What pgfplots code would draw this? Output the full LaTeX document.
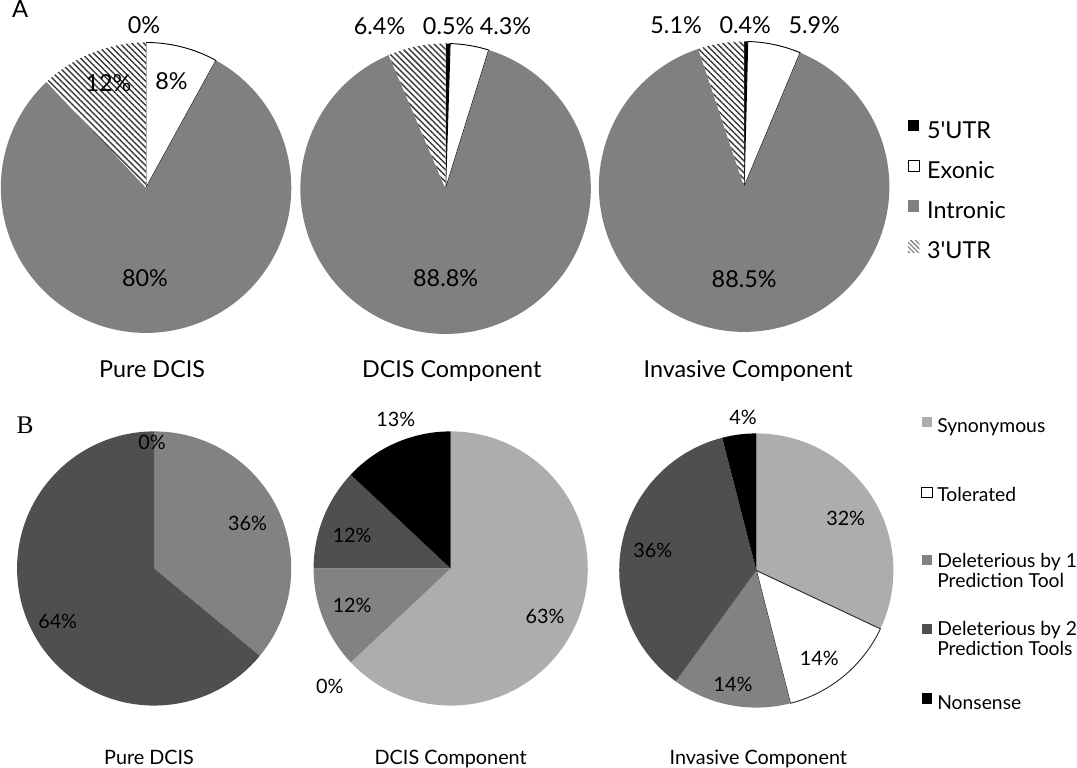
\documentclass[border=0pt]{standalone}
\usepackage{fontspec}
\setmainfont{Lato}
\newfontfamily\panelserif{Liberation Serif}
\usepackage{pgfplots}
\usepackage{pgfplotstable}
\pgfplotsset{compat=1.18}
\usetikzlibrary{patterns.meta}

\definecolor{intronicgray}{HTML}{808080}
\definecolor{delonegray}{HTML}{828282}
\definecolor{deltwogray}{HTML}{4F4F4F}
\definecolor{synongray}{HTML}{ADADAD}
\definecolor{hatchgray}{HTML}{3A3A3A}

\tikzset{
  pie utr5/.style={fill=black},
  pie exonic/.style={fill=white, draw=black, line width=0.9bp, line join=round},
  pie intronic/.style={fill=intronicgray},
  pie utr3/.style={fill=white, postaction={pattern={Lines[angle=-45,distance=4.2bp,line width=1.4bp]}, pattern color=hatchgray}},
  pie syn/.style={fill=synongray},
  pie tol/.style={fill=white, draw=black!85, line width=0.9bp, line join=round},
  pie del1/.style={fill=delonegray},
  pie del2/.style={fill=deltwogray},
  pie non/.style={fill=black},
}

% Panel A: location of the variants (percent of variants)
\pgfplotstableread{
kind share
utr5 0
exonic 8
intronic 80
utr3 12
}\locPure
\pgfplotstableread{
kind share
utr5 0.5
exonic 4.3
intronic 88.8
utr3 6.4
}\locDcis
\pgfplotstableread{
kind share
utr5 0.4
exonic 5.9
intronic 88.5
utr3 5.1
}\locInv

% Panel B: predicted effect of the coding variants (percent)
\pgfplotstableread{
kind share
syn 0
tol 0
del1 36
del2 64
non 0
}\effPure
\pgfplotstableread{
kind share
syn 63
tol 0
del1 12
del2 12
non 13
}\effDcis
\pgfplotstableread{
kind share
syn 32
tol 14
del1 14
del2 36
non 4
}\effInv

% Wedges clockwise from twelve o'clock; #1 table, #2/#3 centre, #4 radius
\newcommand\drawpie[4]{%
  \pgfkeys{/pgf/fpu=false}%
  \pgfplotstablegetrowsof{#1}%
  \pgfmathtruncatemacro\pielast{\pgfplotsretval-1}%
  \gdef\pietotal{0}%
  \foreach \k in {0,...,\pielast}{%
    \pgfplotstablegetelem{\k}{share}\of#1%
    \pgfmathsetmacro\pietmp{\pietotal+\pgfplotsretval}%
    \xdef\pietotal{\pietmp}%
  }%
  \gdef\pieang{90}%
  \foreach \k in {0,...,\pielast}{%
    \pgfplotstablegetelem{\k}{share}\of#1\let\pieval\pgfplotsretval
    \pgfplotstablegetelem{\k}{kind}\of#1\let\piekind\pgfplotsretval
    \pgfmathsetmacro\pieend{\pieang-\pieval/\pietotal*360}%
    \pgfmathtruncatemacro\pieshow{\pieval>0 ? 1 : 0}%
    \ifnum\pieshow>0
      \edef\piestyle{pie \piekind}%
      \expandafter\path\expandafter[\piestyle] (axis cs:#2,#3) -- ++(\pieang:#4bp)
        arc[start angle=\pieang, end angle=\pieend, radius=#4bp] -- cycle;%
    \fi
    \xdef\pieang{\pieend}%
  }%
}

\newcommand\fA{\fontsize{23bp}{27bp}\selectfont}
\newcommand\fB{\fontsize{19.5bp}{23bp}\selectfont}
\newcommand\fL{\fontsize{19bp}{23bp}\selectfont}
% text placed by baseline, page coordinates measured downwards
\newcommand\labA[3]{\node[anchor=base, inner sep=0pt, font=\fA] at (axis cs:#1,-#2) {#3};}
\newcommand\labB[3]{\node[anchor=base, inner sep=0pt, font=\fB] at (axis cs:#1,-#2) {#3};}
\newcommand\legA[2]{\node[anchor=base west, inner sep=0pt, font=\fA] at (axis cs:918,-#1) {#2};}
\newcommand\legB[2]{\node[anchor=base west, inner sep=0pt, font=\fL] at (axis cs:928,-#1) {#2};}

\begin{document}
\begin{tikzpicture}
\begin{axis}[
  x=1bp, y=1bp, xmin=0, xmax=1077, ymin=-772, ymax=0,
  scale only axis, hide axis, clip=false,
]
% ---------- Panel A ----------
\pgfplotsextra{\drawpie{\locPure}{149}{-195}{143}}
\pgfplotsextra{\drawpie{\locDcis}{444}{-196}{143}}
\pgfplotsextra{\drawpie{\locInv}{738}{-194}{143}}

\node[anchor=base, inner sep=0pt, font=\fontsize{23.5bp}{28bp}\selectfont] at (axis cs:25,-27) {A};

\labA{147}{43}{0\%}
\labA{174}{98}{8\%}
\labA{112}{100}{12\%}
\labA{148}{292}{80\%}

\labA{379}{44}{6.4\%}
\labA{447}{44}{0.5\%}
\labA{503}{44}{4.3\%}
\labA{444}{292}{88.8\%}

\labA{671}{43}{5.1\%}
\labA{739}{43}{0.4\%}
\labA{807}{43}{5.9\%}
\labA{738}{293}{88.5\%}

\labA{155}{382}{Pure DCIS}
\labA{450}{382}{DCIS Component}
\labA{742}{382}{Invasive Component}

% legend A
\fill[black] (axis cs:899.5,-128.5) rectangle (axis cs:910.5,-139.5);
\draw[black, line width=0.9bp, fill=white] (axis cs:899.5,-168.5) rectangle (axis cs:910.5,-179.5);
\fill[intronicgray] (axis cs:899.5,-207.5) rectangle (axis cs:910.5,-218.5);
\path[pattern={Lines[angle=-45,distance=3.2bp,line width=1.1bp]}, pattern color=hatchgray!70] (axis cs:899.5,-247.5) rectangle (axis cs:910.5,-258.5);
\legA{147}{5\textquotesingle UTR}
\legA{186}{Exonic}
\legA{225}{Intronic}
\legA{265}{3\textquotesingle UTR}

% ---------- Panel B ----------
\pgfplotsextra{\drawpie{\effPure}{157}{-570}{135}}
\pgfplotsextra{\drawpie{\effDcis}{449}{-570}{135}}
\pgfplotsextra{\drawpie{\effInv}{750}{-572}{135}}

\node[anchor=base, inner sep=0pt, font=\panelserif\fontsize{25bp}{29bp}\selectfont] at (axis cs:30,-437) {B};

\labB{155}{453}{0\%}
\labB{249}{533}{36\%}
\labB{62}{629}{64\%}

\labB{395}{430}{13\%}
\labB{352}{544}{12\%}
\labB{352}{613}{12\%}
\labB{542}{624}{63\%}
\labB{330}{693}{0\%}

\labB{737}{428}{4\%}
\labB{838}{528}{32\%}
\labB{812}{666}{14\%}
\labB{727}{691}{14\%}
\labB{648}{559}{36\%}

\labB{152}{763}{Pure DCIS}
\labB{449}{763}{DCIS Component}
\labB{752}{763}{Invasive Component}

% legend B
\fill[synongray] (axis cs:913,-421) rectangle (axis cs:923,-431);
\draw[black, line width=0.9bp, fill=white] (axis cs:913,-490) rectangle (axis cs:923,-500);
\fill[delonegray] (axis cs:913,-557) rectangle (axis cs:923,-567);
\fill[deltwogray] (axis cs:913,-625) rectangle (axis cs:923,-635);
\fill[black] (axis cs:913,-693) rectangle (axis cs:923,-703);
\legB{436}{Synonymous}
\legB{504}{Tolerated}
\legB{569}{Deleterious by 1}
\legB{589}{Prediction Tool}
\legB{636}{Deleterious by 2}
\legB{656}{Prediction Tools}
\legB{709}{Nonsense}
\end{axis}
\end{tikzpicture}
\end{document}
